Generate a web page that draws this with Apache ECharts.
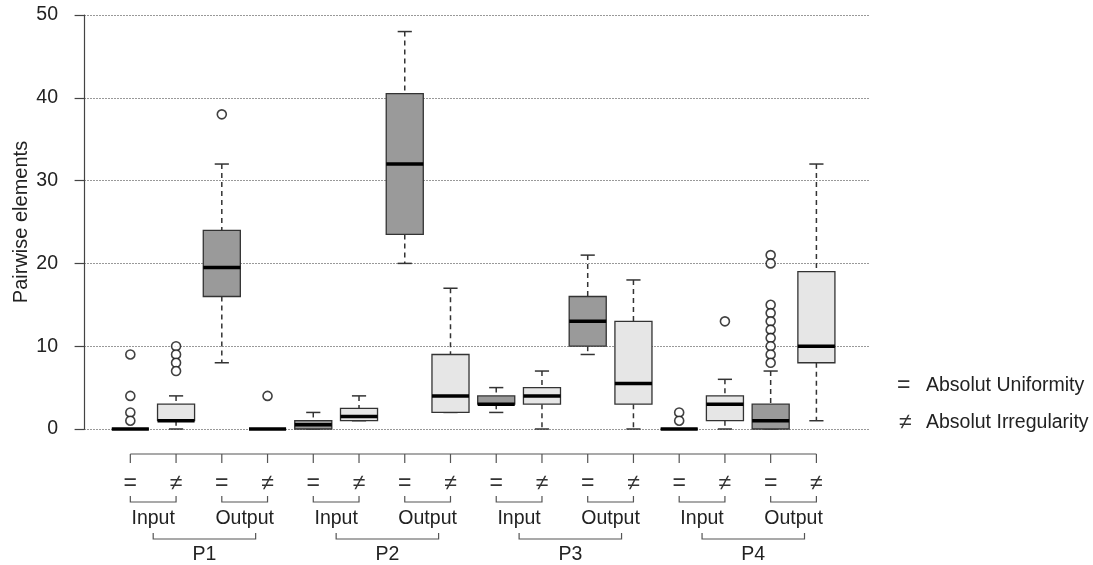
<!DOCTYPE html>
<html>
<head>
<meta charset="utf-8">
<script src="https://cdn.jsdelivr.net/npm/echarts@6/dist/echarts.min.js"></script>
<style>
  html, body { margin: 0; padding: 0; background: #fff; }
  #chart { width: 1093px; height: 565px; }
</style>
</head>
<body>
<div id="chart"></div>
<script>
// 数据：4个P，每个分 Input/Output，每组 = / ≠ 两个箱线
var phases = ['P1', 'P2', 'P3', 'P4']
var groups = ['Input', 'Output']
var kinds = ['=', '≠']

// 每个箱子（按从左到右16个）
var lowWhisker  = [0, 0, 8, 0,   0, 1, 20, 2,   2, 0, 9, 0,   0, 0, 0, 1]
var q1Values    = [0, 1, 16, 0,  0, 1, 23.5, 2, 3, 3, 10, 3,  0, 1, 0, 8]
var medians     = [0, 1, 19.5, 0, 0.5, 1.5, 32, 4, 3, 4, 13, 5.5, 0, 3, 1, 10]
var q3Values    = [0, 3, 24, 0,  1, 2.5, 40.5, 9, 4, 5, 16, 13, 0, 4, 3, 19]
var highWhisker = [0, 4, 32, 0,  2, 4, 48, 17,  5, 7, 21, 18,  0, 6, 7, 32]

// 离群点
var outliers = [
  [1, 9], [1, 4], [1, 2], [1, 1],
  [2, 10], [2, 9], [2, 8], [2, 7],
  [3, 38],
  [4, 4],
  [13, 2], [13, 1],
  [14, 13],
  [15, 21], [15, 20], [15, 15], [15, 14], [15, 13], [15, 12], [15, 11], [15, 10], [15, 9], [15, 8]
]

var legendTexts = ['Absolut Uniformity', 'Absolut Irregularity']
var yTicks = { min: 0, max: 50, interval: 10 }

var boxData = medians.map(function (m, i) {
  return [i + 1, lowWhisker[i], q1Values[i], m, q3Values[i], highWhisker[i]]
})

var FONT = '"Liberation Sans", Arial, Helvetica, sans-serif'
var darkFill = '#9a9a9a'
var lightFill = '#e6e6e6'
var edge = '#333'

function renderBox(params, api) {
  var x = api.value(0)
  var lo = api.coord([x, api.value(1)])
  var q1 = api.coord([x, api.value(2)])
  var md = api.coord([x, api.value(3)])
  var q3 = api.coord([x, api.value(4)])
  var hi = api.coord([x, api.value(5)])
  var bw = api.size([0.81, 0])[0]
  var cw = api.size([0.31, 0])[0]
  var cx = md[0]
  var fill = (params.dataIndex % 2 === 0) ? darkFill : lightFill
  var children = []
  var dash = { stroke: edge, lineWidth: 1.5, lineDash: [5, 4] }
  var solid = { stroke: edge, lineWidth: 1.5 }
  if (hi[1] < q3[1]) {
    children.push({ type: 'line', shape: { x1: cx, y1: hi[1], x2: cx, y2: q3[1] }, style: dash })
  }
  if (lo[1] > q1[1]) {
    children.push({ type: 'line', shape: { x1: cx, y1: q1[1], x2: cx, y2: lo[1] }, style: dash })
  }
  if (api.value(5) !== api.value(4) || api.value(5) !== 0) {
    children.push({ type: 'line', shape: { x1: cx - cw / 2, y1: hi[1], x2: cx + cw / 2, y2: hi[1] }, style: solid })
    children.push({ type: 'line', shape: { x1: cx - cw / 2, y1: lo[1], x2: cx + cw / 2, y2: lo[1] }, style: solid })
  }
  children.push({
    type: 'rect',
    shape: { x: cx - bw / 2, y: q3[1], width: bw, height: q1[1] - q3[1] },
    style: { fill: fill, stroke: edge, lineWidth: 1.3 }
  })
  children.push({
    type: 'line',
    shape: { x1: cx - bw / 2, y1: md[1], x2: cx + bw / 2, y2: md[1] },
    style: { stroke: '#000', lineWidth: 3.5 }
  })
  return { type: 'group', children: children }
}

// 底部的 = / ≠ 、Input/Output、P1..P4 括号标注
function renderBrackets(params, api) {
  var children = []
  var line = { stroke: '#555', lineWidth: 1.2, fill: null }
  var base = api.coord([1, 0])[1]
  var n = medians.length
  var xs = []
  for (var i = 1; i <= n; i++) xs.push(api.coord([i, 0])[0])
  var yLine = base + 25
  children.push({ type: 'line', shape: { x1: xs[0], y1: yLine, x2: xs[n - 1], y2: yLine }, style: line })
  xs.forEach(function (x, i) {
    children.push({ type: 'line', shape: { x1: x, y1: yLine, x2: x, y2: yLine + 9 }, style: line })
    children.push({
      type: 'text',
      style: { text: kinds[i % 2], x: x, y: base + 55, align: 'center', verticalAlign: 'middle',
               fontSize: 23, fill: '#333', fontFamily: FONT }
    })
  })
  // Input / Output 小括号
  for (var g = 0; g < n / 2; g++) {
    var a = xs[g * 2], b = xs[g * 2 + 1]
    var yb = base + 73
    children.push({ type: 'polyline', shape: { points: [[a, yb - 6], [a, yb], [b, yb], [b, yb - 6]] }, style: line })
    children.push({
      type: 'text',
      style: { text: groups[g % 2], x: (a + b) / 2, y: base + 90, align: 'center', verticalAlign: 'middle',
               fontSize: 19.5, fill: '#222', fontFamily: FONT }
    })
  }
  // P 括号
  phases.forEach(function (p, k) {
    var a = api.coord([k * 4 + 1.5, 0])[0]
    var b = api.coord([k * 4 + 3.74, 0])[0]
    var yb = base + 110
    children.push({ type: 'polyline', shape: { points: [[a, yb - 6], [a, yb], [b, yb], [b, yb - 6]] }, style: line })
    children.push({
      type: 'text',
      style: { text: p, x: (a + b) / 2, y: base + 126, align: 'center', verticalAlign: 'middle',
               fontSize: 19.5, fill: '#222', fontFamily: FONT }
    })
  })
  return { type: 'group', children: children }
}

var myChart = echarts.init(document.getElementById('chart'), null, { renderer: 'canvas' })

var option = {
  backgroundColor: '#fff',
  animation: false,
  textStyle: { fontFamily: FONT },
  grid: { left: 78, right: 224, top: 15, bottom: 136, outerBoundsMode: 'none', containLabel: false },
  xAxis: {
    type: 'value',
    min: -0.144,
    max: 17.15,
    show: false
  },
  yAxis: {
    type: 'value',
    min: yTicks.min,
    max: yTicks.max,
    interval: yTicks.interval,
    name: 'Pairwise elements',
    nameLocation: 'middle',
    nameGap: 47,
    nameMoveOverlap: false,
    nameTextStyle: { fontSize: 20, color: '#222', fontFamily: FONT },
    axisLine: { show: true, lineStyle: { color: '#444', width: 1.2 } },
    axisTick: { show: true, length: 10, lineStyle: { color: '#444', width: 1.2 } },
    axisLabel: { fontSize: 19.5, color: '#222', margin: 20, fontFamily: FONT },
    splitLine: { show: true, lineStyle: { color: '#999', type: [2, 1], width: 1 } }
  },
  series: [
    {
      type: 'custom',
      name: 'boxes',
      renderItem: renderBox,
      encode: { x: 0, y: [1, 2, 3, 4, 5] },
      data: boxData,
      z: 2
    },
    {
      type: 'scatter',
      name: 'outliers',
      data: outliers,
      symbol: 'circle',
      symbolSize: 9,
      itemStyle: { color: '#fff', borderColor: '#111', borderWidth: 1.6 },
      z: 3
    },
    {
      type: 'custom',
      name: 'brackets',
      renderItem: renderBrackets,
      data: [[1, 0]],
      clip: false,
      silent: true,
      z: 1
    }
  ],
  graphic: [
    { type: 'text', left: 897, top: 374, style: { text: '=', fontSize: 23, fill: '#333', fontFamily: FONT } },
    { type: 'text', left: 926, top: 376, style: { text: legendTexts[0], fontSize: 19.5, fill: '#222', fontFamily: FONT } },
    { type: 'text', left: 899, top: 411, style: { text: '≠', fontSize: 23, fill: '#333', fontFamily: FONT } },
    { type: 'text', left: 926, top: 413, style: { text: legendTexts[1], fontSize: 19.5, fill: '#222', fontFamily: FONT } }
  ]
}

myChart.setOption(option)
</script>
</body>
</html>
